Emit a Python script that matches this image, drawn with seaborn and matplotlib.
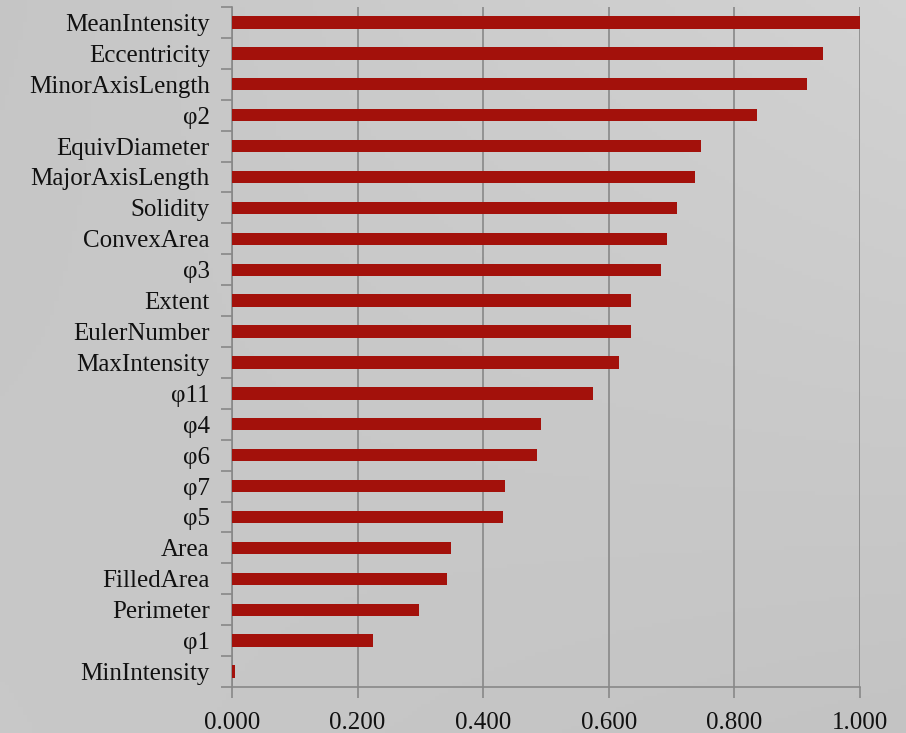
import numpy as np
import pandas as pd
import matplotlib
matplotlib.use("Agg")
import matplotlib.pyplot as plt
import seaborn as sns

features = [
    "MeanIntensity", "Eccentricity", "MinorAxisLength", "φ2", "EquivDiameter",
    "MajorAxisLength", "Solidity", "ConvexArea", "φ3", "Extent", "EulerNumber",
    "MaxIntensity", "φ11", "φ4", "φ6", "φ7", "φ5", "Area", "FilledArea",
    "Perimeter", "φ1", "MinIntensity",
]
importance = [
    1.000, 0.941, 0.916, 0.836, 0.747,
    0.737, 0.709, 0.693, 0.683, 0.635, 0.635,
    0.616, 0.575, 0.492, 0.486, 0.435, 0.431, 0.349, 0.342,
    0.298, 0.224, 0.004,
]
x_ticks = [0.0, 0.2, 0.4, 0.6, 0.8, 1.0]
x_tick_labels = ["0.000", "0.200", "0.400", "0.600", "0.800", "1.000"]

df = pd.DataFrame({"feature": features, "importance": importance})

sns.set_theme(style="white")
plt.rcParams["font.family"] = ["Liberation Serif", "DejaVu Serif"]

fig = plt.figure(figsize=(9.06, 7.33), dpi=100)

# soft grey gradient backdrop
bg = fig.add_axes([0, 0, 1, 1], zorder=-10)
gx = np.linspace(0, 1, 200)
gy = np.linspace(0, 1, 200)
X, Y = np.meshgrid(gx, gy)  # Y = 0 at top
tl, tr, bl, br = 0.775, 0.825, 0.785, 0.765
G = (tl * (1 - X) * (1 - Y) + tr * X * (1 - Y) + bl * (1 - X) * Y + br * X * Y)
bg.imshow(np.dstack([G, G, G]), aspect="auto", extent=[0, 1, 1, 0])
bg.set_axis_off()

ax = fig.add_axes([232 / 906, 1 - 687 / 733, 628 / 906, 680 / 733])
ax.patch.set_alpha(0)

sns.barplot(data=df, x="importance", y="feature", orient="h", color="#A3110B",
            saturation=1, width=0.40, linewidth=0, ax=ax, zorder=3)

ax.set_xlim(0, 1.0)
ax.set_ylim(len(features) - 0.5, -0.5)
ax.set_xlabel("")
ax.set_ylabel("")

ax.set_xticks(x_ticks)
ax.set_xticklabels(x_tick_labels, fontsize=18)
ax.xaxis.grid(True, color="#888888", linewidth=1.2, zorder=1)
ax.set_axisbelow(True)

# category labels, with boundary ticks between categories
ax.set_yticks(range(len(features)))
ax.set_yticklabels(features, fontsize=18)
ax.set_yticks(np.arange(-0.5, len(features), 1.0), minor=True)
ax.tick_params(axis="y", which="both", left=True)
ax.tick_params(axis="y", which="major", length=0, pad=16, colors="#111111")
ax.tick_params(axis="y", which="minor", length=8, width=1.2, color="#888888", direction="out")
ax.tick_params(axis="x", which="major", bottom=True, length=8, width=1.2, color="#888888",
               direction="out", pad=10, labelcolor="#111111")

for side in ["top", "right"]:
    ax.spines[side].set_visible(False)
for side in ["left", "bottom"]:
    ax.spines[side].set_color("#888888")
    ax.spines[side].set_linewidth(1.2)

fig.savefig("out.png", dpi=100)
